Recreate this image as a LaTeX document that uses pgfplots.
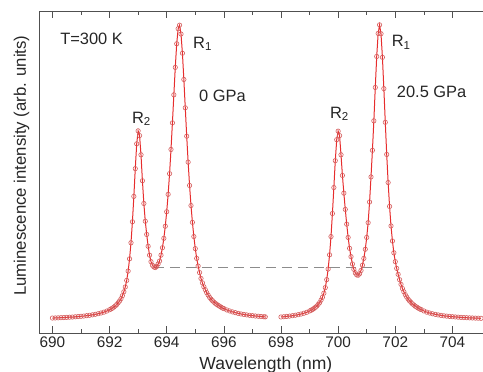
\documentclass[border=0pt]{standalone}
\usepackage{fontspec}
\setmainfont{Liberation Sans}
\usepackage{pgfplots}
\usepackage{pgfplotstable}
\pgfplotsset{compat=1.18}
\definecolor{lc}{RGB}{230,45,45}
\definecolor{mc}{RGB}{212,92,92}
\definecolor{dc}{RGB}{140,140,140}
\definecolor{ac}{RGB}{80,80,80}
\pgfplotstableread{
x y
690.0 0.0070
690.1 0.0073
690.2 0.0077
690.3 0.0082
690.4 0.0087
690.5 0.0092
690.6 0.0098
690.7 0.0104
690.8 0.0112
690.9 0.0120
691.0 0.0129
691.1 0.0138
691.2 0.0150
691.3 0.0163
691.4 0.0178
691.5 0.0196
691.6 0.0216
691.7 0.0240
691.8 0.0269
691.9 0.0306
692.00 0.0351
692.05 0.0377
692.10 0.0404
692.15 0.0441
692.20 0.0479
692.25 0.0527
692.30 0.0586
692.35 0.0645
692.40 0.0725
692.45 0.0828
692.50 0.0959
692.55 0.1122
692.60 0.1345
692.65 0.166
692.70 0.2075
692.75 0.262
692.80 0.333
692.85 0.419
692.90 0.513
692.95 0.597
693.00 0.641
693.05 0.625
693.10 0.560
693.15 0.472
693.20 0.395
693.25 0.335
693.30 0.290
693.35 0.250
693.40 0.220
693.45 0.198
693.50 0.186
693.55 0.180
693.60 0.178
693.65 0.182
693.70 0.190
693.75 0.200
693.80 0.220
693.85 0.245
693.90 0.277
693.95 0.318
694.00 0.367
694.05 0.426
694.10 0.496
694.15 0.578
694.20 0.668
694.25 0.763
694.30 0.856
694.35 0.936
694.40 0.987
694.45 0.999
694.50 0.969
694.55 0.904
694.60 0.815
694.65 0.719
694.70 0.623
694.75 0.535
694.80 0.456
694.85 0.388
694.90 0.331
694.95 0.283
695.00 0.242
695.05 0.209
695.10 0.183
695.15 0.161
695.20 0.141
695.25 0.126
695.30 0.113
695.35 0.103
695.40 0.093
695.45 0.085
695.50 0.077
695.55 0.071
695.60 0.066
695.65 0.061
695.70 0.057
695.75 0.053
695.80 0.050
695.85 0.047
695.90 0.044
695.95 0.041
696.00 0.039
696.1 0.0345
696.2 0.0310
696.3 0.0278
696.4 0.0252
696.5 0.0228
696.6 0.0208
696.7 0.0191
696.8 0.0176
696.9 0.0163
697.0 0.0151
697.1 0.0139
697.2 0.0131
697.3 0.0121
697.4 0.0114
697.45 0.0110
}\specA
\pgfplotstableread{
x y
698.0 0.0106
698.1 0.0114
698.2 0.0125
698.3 0.0136
698.4 0.0149
698.5 0.0165
698.6 0.0183
698.7 0.0205
698.8 0.0232
698.9 0.0264
699.00 0.0309
699.05 0.0333
699.10 0.0358
699.15 0.0393
699.20 0.0428
699.25 0.0474
699.30 0.0530
699.35 0.0587
699.40 0.0674
699.45 0.0772
699.50 0.091
699.55 0.110
699.60 0.137
699.65 0.173
699.70 0.221
699.75 0.283
699.80 0.361
699.85 0.449
699.90 0.540
699.95 0.611
700.00 0.640
700.05 0.625
700.10 0.560
700.15 0.490
700.20 0.430
700.25 0.375
700.30 0.325
700.35 0.280
700.40 0.243
700.45 0.215
700.50 0.190
700.55 0.172
700.60 0.160
700.65 0.153
700.70 0.152
700.75 0.157
700.80 0.168
700.85 0.186
700.90 0.209
700.95 0.240
701.00 0.280
701.05 0.330
701.10 0.400
701.15 0.485
701.20 0.575
701.25 0.675
701.30 0.788
701.35 0.893
701.40 0.971
701.45 1.000
701.50 0.970
701.55 0.890
701.60 0.784
701.65 0.670
701.70 0.561
701.75 0.466
701.80 0.385
701.85 0.319
701.90 0.268
701.95 0.228
702.00 0.198
702.05 0.175
702.10 0.155
702.15 0.137
702.20 0.121
702.25 0.107
702.30 0.096
702.35 0.086
702.40 0.078
702.45 0.071
702.50 0.065
702.55 0.060
702.60 0.055
702.65 0.051
702.70 0.047
702.75 0.044
702.80 0.041
702.85 0.038
702.90 0.036
703.0 0.0310
703.1 0.0270
703.2 0.0240
703.3 0.0215
703.4 0.0195
703.5 0.0176
703.6 0.0160
703.7 0.0146
703.8 0.0134
703.9 0.0124
704.0 0.0115
704.1 0.0107
704.2 0.0099
704.3 0.0092
704.4 0.0086
704.5 0.0081
704.6 0.0076
704.7 0.0072
704.8 0.0068
704.9 0.0064
705.0 0.0061
}\specB
\begin{document}
\begin{tikzpicture}
\begin{axis}[name=ax, scale only axis, width=444bp, height=322.3bp,
  xmin=689.54, xmax=705.07, ymin=-0.044, ymax=1.047,
  axis y line*=left, y axis line style={-},
  axis line style={ac, line width=0.7bp},
  xtick={690,692,...,704}, minor x tick num=1, ytick=\empty,
  tick align=inside, major tick length=7bp, minor tick length=4bp,
  tick style={ac, line width=0.7bp},
  xticklabel style={font=\fontsize{15.4}{18}\selectfont, text=black!85},
  /pgf/number format/assume math mode=true,
  /pgf/number format/1000 sep={},
  xlabel={Wavelength (nm)},
  xlabel style={font=\fontsize{17.6}{20}\selectfont, text=black!85, at={(axis description cs:0.5,0)}, anchor=base, xshift=4.7bp, yshift=-36bp},
  ylabel={Luminescence intensity (arb. units)},
  ylabel style={font=\fontsize{16.8}{20}\selectfont, text=black!85, at={(axis description cs:-0.04,0.52)}, anchor=center},
]
\addplot[dc, line width=0.8bp, dash pattern=on 10bp off 6bp] coordinates {(693.55,0.18) (701.23,0.18)};
\addplot[draw=lc, line width=1bp, mark=o, mark size=2.2bp, mark options={draw=mc, fill=white, line width=0.6bp, solid}] table[x=x,y=y] {\specA};
\addplot[draw=lc, line width=1bp, mark=o, mark size=2.2bp, mark options={draw=mc, fill=white, line width=0.6bp, solid}] table[x=x,y=y] {\specB};
\begin{scope}[every node/.style={font=\fontsize{16.5}{20}\selectfont, text=black!85, inner sep=0pt}]
\node[anchor=base west] at (axis cs:690.27,0.932) {T=300 K};
\node[anchor=base west] at (axis cs:694.92,0.921) {R\textsubscript{1}};
\node[anchor=base west] at (axis cs:695.13,0.740) {0 GPa};
\node[anchor=base west] at (axis cs:692.78,0.667) {R\textsubscript{2}};
\node[anchor=base west] at (axis cs:699.71,0.684) {R\textsubscript{2}};
\node[anchor=base west] at (axis cs:701.87,0.926) {R\textsubscript{1}};
\node[anchor=base west] at (axis cs:702.05,0.755) {20.5 GPa};
\end{scope}
\end{axis}
\pgfresetboundingbox
\useasboundingbox ([shift={(-39.3bp,-38.7bp)}]ax.south west) rectangle ([shift={(0bp,11bp)}]ax.north east);
\end{tikzpicture}
\end{document}
